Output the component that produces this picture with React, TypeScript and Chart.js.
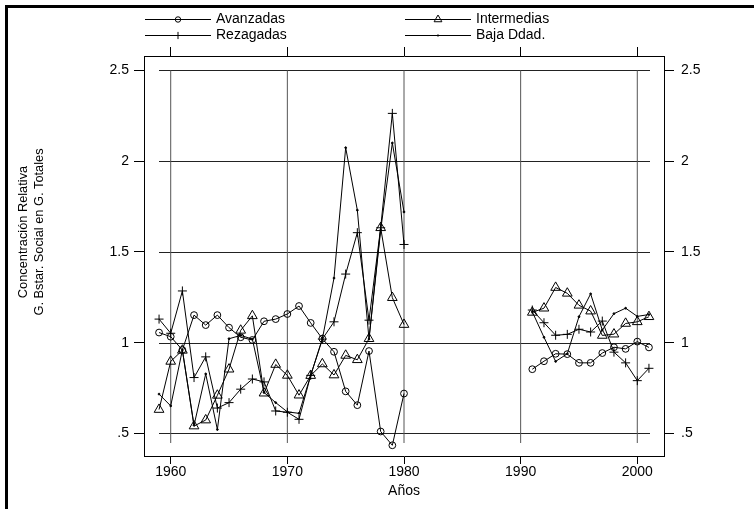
import React, { useEffect, useRef } from 'react';
import { Chart, registerables } from 'chart.js';
import { drawPoint } from 'chart.js/helpers';

Chart.register(...registerables);

const FONT = '"Liberation Sans", Arial, Helvetica, sans-serif';

// ---- data ----
const YEARS_A = [1959, 1960, 1961, 1962, 1963, 1964, 1965, 1966, 1967, 1968, 1969, 1970, 1971, 1972, 1973, 1974, 1975, 1976, 1977, 1978, 1979, 1980];
const YEARS_B = [1991, 1992, 1993, 1994, 1995, 1996, 1997, 1998, 1999, 2000, 2001];

const AVANZADAS_A = [1.056, 1.033, 0.96, 1.152, 1.097, 1.152, 1.083, 1.03, 1.015, 1.118, 1.13, 1.158, 1.202, 1.109, 1.022, 0.95, 0.732, 0.656, 0.954, 0.511, 0.435, 0.72];
const AVANZADAS_B = [0.854, 0.898, 0.939, 0.937, 0.889, 0.889, 0.943, 0.975, 0.966, 1.006, 0.974];

const INTERMEDIAS_A = [0.632, 0.897, 0.958, 0.541, 0.574, 0.71, 0.854, 1.068, 1.148, 0.722, 0.88, 0.82, 0.711, 0.819, 0.883, 0.822, 0.93, 0.906, 1.022, 1.633, 1.248, 1.1];
const INTERMEDIAS_B = [1.167, 1.19, 1.304, 1.272, 1.206, 1.174, 1.04, 1.047, 1.106, 1.115, 1.143];

const REZAGADAS_A = [1.13, 1.052, 1.285, 0.808, 0.922, 0.64, 0.67, 0.744, 0.8, 0.784, 0.624, 0.617, 0.578, 0.82, 1.02, 1.115, 1.378, 1.606, 1.124, 1.633, 2.263, 1.541];
const REZAGADAS_B = [1.18, 1.11, 1.041, 1.046, 1.074, 1.059, 1.119, 0.948, 0.889, 0.791, 0.859];

const BAJA_A = [0.717, 0.652, 0.96, 0.545, 0.828, 0.522, 1.022, 1.04, 1.02, 0.726, 0.67, 0.619, 0.611, 0.82, 1.02, 1.356, 2.074, 1.73, 1.02, 1.62, 2.1, 1.72];
const BAJA_B = [1.17, 1.03, 0.897, 0.939, 1.143, 1.269, 1.07, 1.16, 1.19, 1.145, 1.155];

const SERIES_NAMES = ['Avanzadas', 'Intermedias', 'Rezagadas', 'Baja Ddad.'];

const X_TICKS = [1960, 1970, 1980, 1990, 2000];
const Y_TICKS = [0.5, 1, 1.5, 2, 2.5];
const Y_TICK_LABELS = ['.5', '1', '1.5', '2', '2.5'];
const X_TITLE = 'Años';
const Y_TITLE = ['Concentración Relativa', 'G. Bstar. Social en G. Totales'];

const X_MIN = 1957.71;
const X_MAX = 2002.29;
const Y_MIN = 0.376;
const Y_MAX = 2.579;
const GAP_X = 1985; // break between the two periods

// ---- styles ----
const POINT_STYLES = ['circle', 'triangle', 'cross', 'circle'];
const POINT_RADII = [3.4, 5.6, 4.5, 0.9];
const POINT_FILLS = ['rgba(0,0,0,0)', 'rgba(0,0,0,0)', 'rgba(0,0,0,0)', '#000'];
const LEGEND_X = [145, 405];
const LEGEND_Y = [19, 35];

function buildSeries(a: number[], b: number[]) {
  return [
    ...YEARS_A.map((x, i) => ({ x, y: a[i] })),
    { x: GAP_X, y: null },
    ...YEARS_B.map((x, i) => ({ x, y: b[i] })),
  ];
}

const SERIES_DATA = [
  buildSeries(AVANZADAS_A, AVANZADAS_B),
  buildSeries(INTERMEDIAS_A, INTERMEDIAS_B),
  buildSeries(REZAGADAS_A, REZAGADAS_B),
  buildSeries(BAJA_A, BAJA_B),
];

const decorPlugin = {
  id: 'decor',
  beforeDatasetsDraw(chart: any) {
    const { ctx, chartArea: a, scales } = chart;
    ctx.save();
    ctx.lineWidth = 1;
    ctx.strokeStyle = '#222';
    Y_TICKS.forEach((v) => {
      const y = Math.round(scales.y.getPixelForValue(v)) + 0.5;
      ctx.beginPath();
      ctx.moveTo(a.left + 15, y);
      ctx.lineTo(a.right - 14, y);
      ctx.stroke();
    });
    ctx.strokeStyle = '#555';
    const top = scales.y.getPixelForValue(Y_TICKS[Y_TICKS.length - 1]);
    X_TICKS.forEach((v) => {
      const x = scales.x.getPixelForValue(v);
      ctx.beginPath();
      ctx.moveTo(x, top);
      ctx.lineTo(x, a.bottom - 13);
      ctx.stroke();
    });
    ctx.restore();
  },
  afterDraw(chart: any) {
    const { ctx } = chart;
    ctx.save();
    // legend
    ctx.font = `14px ${FONT}`;
    ctx.textBaseline = 'middle';
    ctx.textAlign = 'left';
    chart.data.datasets.forEach((ds: any, i: number) => {
      const col = i % 2;
      const row = Math.floor(i / 2);
      const x0 = LEGEND_X[col];
      const y = LEGEND_Y[row];
      ctx.strokeStyle = '#000';
      ctx.lineWidth = 1;
      ctx.beginPath();
      ctx.moveTo(x0, y + 0.5);
      ctx.lineTo(x0 + 66, y + 0.5);
      ctx.stroke();
      ctx.fillStyle = ds.pointBackgroundColor;
      drawPoint(ctx, { pointStyle: ds.pointStyle, radius: ds.pointRadius * 0.8, borderWidth: 1, rotation: 0 } as any, x0 + 33, y + 0.5);
      ctx.fillStyle = '#000';
      ctx.fillText(ds.label, x0 + 71, y);
    });
    // y title
    ctx.font = `12.8px ${FONT}`;
    ctx.textAlign = 'center';
    const yc = 232;
    [23, 39].forEach((xc, i) => {
      ctx.save();
      ctx.translate(xc, yc);
      ctx.rotate(-Math.PI / 2);
      ctx.fillText(Y_TITLE[i], 0, 0);
      ctx.restore();
    });
    ctx.restore();
  },
};

const tickFont = { family: FONT, size: 14 };

function yTickLabel(v: any) {
  const i = Y_TICKS.indexOf(Number(v));
  return i >= 0 ? Y_TICK_LABELS[i] : '';
}

export default function App() {
  const ref = useRef<HTMLCanvasElement>(null);

  useEffect(() => {
    const chart = new Chart(ref.current as HTMLCanvasElement, {
      type: 'line',
      data: {
        datasets: SERIES_NAMES.map((name, i) => ({
          label: name,
          data: SERIES_DATA[i] as any,
          xAxisID: 'x',
          yAxisID: 'y',
          borderColor: '#000',
          borderWidth: 1,
          tension: 0,
          fill: false,
          spanGaps: false,
          pointStyle: POINT_STYLES[i] as any,
          pointRadius: POINT_RADII[i],
          pointBorderWidth: 1,
          pointBorderColor: '#000',
          pointBackgroundColor: POINT_FILLS[i],
          pointHoverRadius: POINT_RADII[i],
        })),
      },
      options: {
        animation: false,
        responsive: false,
        maintainAspectRatio: false,
        layout: { padding: 0 },
        plugins: { legend: { display: false }, tooltip: { enabled: false } },
        scales: {
          x: {
            type: 'linear',
            position: 'bottom',
            min: X_MIN,
            max: X_MAX,
            afterBuildTicks: (s: any) => { s.ticks = X_TICKS.map((v) => ({ value: v })); },
            afterFit: (s: any) => { s.height = 53; },
            grid: { display: true, drawOnChartArea: false, drawTicks: true, tickLength: 8, color: '#000', lineWidth: 1 },
            border: { display: true, color: '#000', width: 1 },
            ticks: { color: '#000', font: tickFont, padding: 0, maxRotation: 0, autoSkip: false, callback: (v: any) => String(v) },
            title: { display: true, text: X_TITLE, color: '#000', font: tickFont, padding: { top: 0, bottom: 9 } },
          },
          xTop: {
            type: 'linear',
            position: 'top',
            min: X_MIN,
            max: X_MAX,
            afterBuildTicks: (s: any) => { s.ticks = X_TICKS.map((v) => ({ value: v })); },
            afterFit: (s: any) => { s.height = 56; },
            grid: { display: true, drawOnChartArea: false, drawTicks: true, tickLength: 9, color: '#000', lineWidth: 1 },
            border: { display: true, color: '#000', width: 1 },
            ticks: { display: false },
          },
          y: {
            type: 'linear',
            position: 'left',
            min: Y_MIN,
            max: Y_MAX,
            afterBuildTicks: (s: any) => { s.ticks = Y_TICKS.map((v) => ({ value: v })); },
            afterFit: (s: any) => { s.width = 144; },
            grid: { display: true, drawOnChartArea: false, drawTicks: true, tickLength: 10, color: '#000', lineWidth: 1 },
            border: { display: true, color: '#000', width: 1 },
            ticks: { color: '#000', font: tickFont, padding: 5, callback: yTickLabel },
          },
          yRight: {
            type: 'linear',
            position: 'right',
            min: Y_MIN,
            max: Y_MAX,
            afterBuildTicks: (s: any) => { s.ticks = Y_TICKS.map((v) => ({ value: v })); },
            afterFit: (s: any) => { s.width = 90; },
            grid: { display: true, drawOnChartArea: false, drawTicks: true, tickLength: 10, color: '#000', lineWidth: 1 },
            border: { display: true, color: '#000', width: 1 },
            ticks: { color: '#000', font: tickFont, padding: 7, callback: yTickLabel },
          },
        },
      } as any,
      plugins: [decorPlugin],
    });
    return () => chart.destroy();
  }, []);

  return (
    <div style={{ position: 'fixed', left: 0, top: 0, width: 754, height: 509, overflow: 'hidden', background: '#fff' }}>
      <div style={{ position: 'absolute', left: 5, top: 5, width: 800, height: 600, borderTop: '3px solid #000', borderLeft: '3px solid #000' }} />
      <canvas ref={ref} width={754} height={509} style={{ position: 'absolute', left: 0, top: 0, width: 754, height: 509 }} />
    </div>
  );
}
